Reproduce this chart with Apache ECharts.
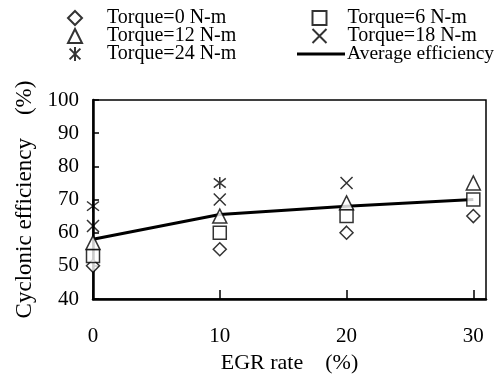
<!DOCTYPE html>
<html>
<head>
<meta charset="utf-8">
<script src="https://cdn.jsdelivr.net/npm/echarts@6/dist/echarts.min.js"></script>
<style>
  html, body { margin: 0; padding: 0; background: #fff; }
  #main { width: 500px; height: 381px; }
</style>
</head>
<body>
<div id="main"></div>
<script>
// EGR rate (%)
const egrRate = [0, 10, 20, 30]
// cyclonic efficiency (%) per torque
const torque0 = [50, 55, 60, 65]
const torque6 = [53, 60, 65, 70]
const torque12 = [57, 65, 69, 75]
const torque18 = [62, 70, 75, null]
const torque24 = [68, 75, null, null]
const avgEff = [58, 65.5, 68, 70]

const FONT = "'Liberation Serif', 'Times New Roman', serif"
const pairs = (ys) => egrRate.map((x, i) => [x, ys[i]]).filter((p) => p[1] != null)

const hollow = { color: '#fff', borderColor: '#000', borderWidth: 1.5 }
const stroked = { color: 'none', borderColor: '#000', borderWidth: 1.5 }
const crossPath = 'path://M0,0L10,10M10,0L0,10'
const starPath = 'path://M0,0L10,10M10,0L0,10M5,-1.5L5,11.5'
const linePath = 'path://M0,0h48v3h-48z'

const myChart = echarts.init(document.getElementById('main'))

// small icons, text pushed right with padding so columns line up
const legendBase = {
  orient: 'vertical',
  top: 3,
  itemWidth: 14,
  itemHeight: 14,
  itemGap: -2
}

myChart.setOption({
  animation: false,
  legend: [
    Object.assign({}, legendBase, {
      left: 62,
      textStyle: { fontFamily: FONT, fontSize: 20, color: '#000', padding: [0, 0, 0, 20] },
      data: ['Torque=0 N-m', 'Torque=12 N-m', 'Torque=24 N-m']
    }),
    Object.assign({}, legendBase, {
      left: 305,
      textStyle: { fontFamily: FONT, fontSize: 20, color: '#000', padding: [0, 0, 0, 16] },
      data: ['Torque=6 N-m', 'Torque=18 N-m']
    }),
    Object.assign({}, legendBase, {
      left: 292,
      top: 39,
      itemWidth: 48,
      textStyle: { fontFamily: FONT, fontSize: 19.5, color: '#000', padding: [0, 0, 0, -3] },
      data: [{ name: 'Average efficiency', icon: linePath }]
    })
  ],
  grid: {
    left: 93,
    right: 14,
    top: 100,
    bottom: 82,
    show: true,
    borderColor: '#000',
    borderWidth: 1.5
  },
  xAxis: {
    type: 'value',
    min: 0,
    max: 31,
    interval: 10,
    name: 'EGR rate    (%)',
    nameLocation: 'middle',
    nameGap: 52,
    nameTextStyle: { fontFamily: FONT, fontSize: 22, color: '#000' },
    axisLine: { lineStyle: { color: '#000', width: 2.5 } },
    axisTick: { inside: true, length: 9, lineStyle: { color: '#000', width: 1.5 } },
    axisLabel: { showMaxLabel: false, margin: 27, fontFamily: FONT, fontSize: 21, color: '#000' },
    splitLine: { show: false }
  },
  yAxis: {
    type: 'value',
    min: 40,
    max: 100,
    interval: 10,
    name: 'Cyclonic efficiency    (%)',
    nameLocation: 'middle',
    nameGap: 50,
    nameTextStyle: { fontFamily: FONT, fontSize: 23, color: '#000' },
    axisLine: { lineStyle: { color: '#000', width: 2.5 } },
    axisTick: { inside: true, length: 6, lineStyle: { color: '#000', width: 1.5 } },
    axisLabel: { margin: 14, fontFamily: FONT, fontSize: 21, color: '#000' },
    splitLine: { show: false }
  },
  series: [
    {
      name: 'Average efficiency',
      type: 'line',
      symbol: 'none',
      lineStyle: { color: '#000', width: 3 },
      itemStyle: { color: '#000' },
      data: pairs(avgEff),
      z: 1
    },
    { name: 'Torque=0 N-m', type: 'scatter', symbol: 'diamond', symbolSize: 13, itemStyle: hollow, data: pairs(torque0), z: 3 },
    { name: 'Torque=6 N-m', type: 'scatter', symbol: 'rect', symbolSize: 13, itemStyle: hollow, data: pairs(torque6), z: 3 },
    { name: 'Torque=12 N-m', type: 'scatter', symbol: 'triangle', symbolSize: 14, itemStyle: hollow, data: pairs(torque12), z: 3 },
    { name: 'Torque=18 N-m', type: 'scatter', symbol: crossPath, symbolSize: 12, itemStyle: stroked, data: pairs(torque18), z: 3 },
    { name: 'Torque=24 N-m', type: 'scatter', symbol: starPath, symbolSize: 12, itemStyle: stroked, data: pairs(torque24), z: 3 }
  ]
})
</script>
</body>
</html>
